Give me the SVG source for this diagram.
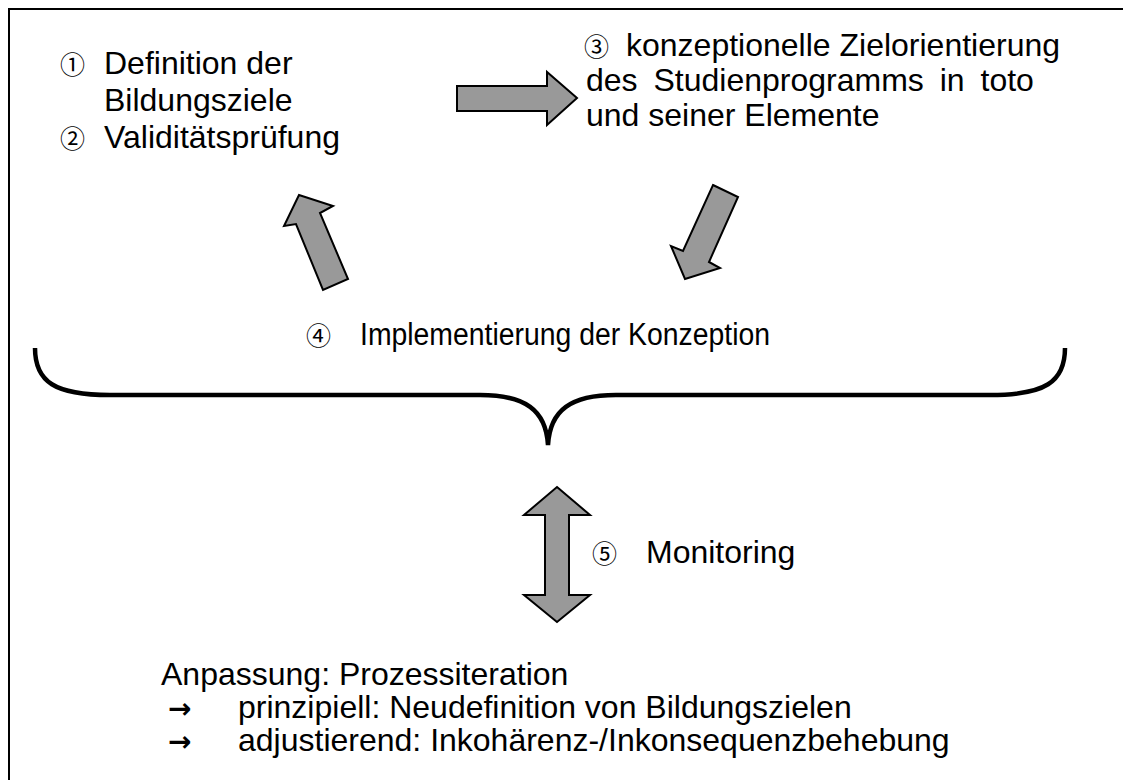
<svg xmlns="http://www.w3.org/2000/svg" width="1123" height="780" viewBox="0 0 1123 780">
<style>
.t{font-family:"Liberation Sans",Arial,sans-serif;font-size:32px;fill:#000}
.c{font-family:"Noto Sans CJK JP","DejaVu Sans",sans-serif;font-size:25px;fill:#000}
.a{font-family:"DejaVu Sans",sans-serif;font-size:28px;font-weight:bold;fill:#000}
.arr{fill:#999;stroke:#000;stroke-width:2;stroke-linejoin:miter}
</style>
<rect width="1123" height="780" fill="#fff"/>
<path d="M9,780 V9 H1123" fill="none" stroke="#000" stroke-width="2"/>
<g id="node1">
<text class="c" x="60" y="74">①</text>
<text class="t" x="104" y="74">Definition der</text>
<text class="t" x="104" y="111">Bildungsziele</text>
<text class="c" x="60" y="148">②</text>
<text class="t" x="104" y="148">Validitätsprüfung</text>
</g>
<g id="node3">
<text class="c" x="584" y="56">③</text>
<text class="t" x="626" y="56">konzeptionelle Zielorientierung</text>
<text class="t" x="586" y="91" word-spacing="7">des Studienprogramms in toto</text>
<text class="t" x="586" y="126">und seiner Elemente</text>
</g>
<g id="node4">
<text class="c" x="306" y="345">④</text>
<text class="t" x="360" y="345" style="font-size:31px" textLength="410" lengthAdjust="spacingAndGlyphs">Implementierung der Konzeption</text>
</g>
<g id="node5">
<text class="c" x="592" y="563">⑤</text>
<text class="t" x="646" y="563">Monitoring</text>
</g>
<g id="node6">
<text class="t" x="161" y="685">Anpassung: Prozessiteration</text>
<text class="a" x="168" y="718">→</text>
<text class="t" x="238" y="718">prinzipiell: Neudefinition von Bildungszielen</text>
<text class="a" x="168" y="751">→</text>
<text class="t" x="238" y="751">adjustierend: Inkohärenz-/Inkonsequenzbehebung</text>
</g>
<g id="connectors">
<polygon class="arr" points="457,86 547,86 547,72 577,98 547,125 547,111 457,111"/>
<polygon class="arr" points="299,195 333,206 320,213 348,279 323,290 296,224 284,226"/>
<polygon class="arr" points="713,185 738,197 709,262 720,268 685,279 671,246 683,251"/>
<polygon class="arr" points="557,487 590,515 569,515 569,595 590,595 557,622 524,595 545,595 545,515 524,515"/>
<path d="M35,348 C35,382 55,395 110,395 L480,395 C525,395 546,410 548,445 C550,410 571,395 616,395 L990,395 C1045,395 1065,382 1065,348" fill="none" stroke="#000" stroke-width="4.5"/>
</g>
</svg>
